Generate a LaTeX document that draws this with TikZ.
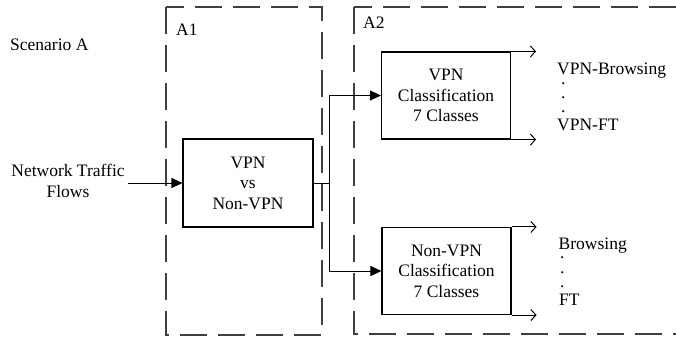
\documentclass[tikz,border=0pt]{standalone}
\usepackage{fontspec}
\setmainfont{Liberation Serif}
\usetikzlibrary{arrows.meta,positioning}
\begin{document}
\begin{tikzpicture}
            [x=1pt,y=-1pt,
             font=\fontsize{17.5}{20.6}\selectfont,
             box/.style ={draw,line width=1.1pt,minimum width=130pt,minimum height=88pt,align=center,inner sep=0pt},
             area/.style ={draw=black!75,line width=1.3pt,dash pattern=on 27pt off 11pt},
             txt/.style ={inner sep=0pt,anchor=base west},
             dot/.style ={inner sep=0pt,anchor=base},
             inarrow/.style ={line width=1pt,-{Triangle[length=11pt,width=10pt]}},
             outarrow/.style ={line width=1pt,-{Straight Barb[length=5pt,width=11pt]}}]
            \useasboundingbox (0,0) rectangle (676,338);
            \clip (0,0) rectangle (676,338);
            % areas A1 and A2
            \draw[area] (166,7) rectangle (322,335);
            \draw[area] (354,7) rectangle (720,334);
            \node[txt] (a1) at (176,35) {A1};
            \node[txt] (a2) at (363,28.5) {A2};
            \node[txt] (scen) at (10,50.7) {Scenario A};
            % boxes
            \node[box] (vpnvs) at (248,183) {VPN\\vs\\Non-VPN};
            \node[box,minimum width=129pt,minimum height=87pt] (vpncls) at (446,95.5) {VPN\\Classification\\7 Classes};
            \node[box,minimum width=129pt,minimum height=87pt] (nvpncls) at (446.5,271) {Non-VPN\\Classification\\7 Classes};
            \node[align=center,inner sep=0pt] (flows) at (68,181) {Network Traffic\\Flows};
            \coordinate (in) at (128,183);
            \coordinate (split) at (329,183);
            \draw[inarrow] (in) -- (vpnvs);
            \draw[line width=1pt] (vpnvs) -- (split);
            \draw[inarrow] (split) |- (vpncls.west);
            \draw[inarrow] (split) |- (nvpncls.west);
            % outputs
            \draw[outarrow] (vpncls.north east) -- ++(25,0);
            \draw[outarrow] (vpncls.south east) -- ++(25,0);
            \draw[outarrow] (nvpncls.north east) -- ++(25,0);
            \draw[outarrow] (nvpncls.south east) -- ++(25,0);
            \node[txt] (vbrow) at (557,74) {VPN-Browsing};
            \node[txt] (vft) at (557,130.7) {VPN-FT};
            \node[txt] (brow) at (558.5,249.3) {Browsing};
            \node[txt] (ft) at (559,305) {FT};
            \foreach \y in {84.3,98.7,112.7} \node[dot] at (563.3,\y) {.};
            \foreach \y in {258.7,273.7,287.7} \node[dot] at (562.3,\y) {.};
        \end{tikzpicture}
\end{document}
